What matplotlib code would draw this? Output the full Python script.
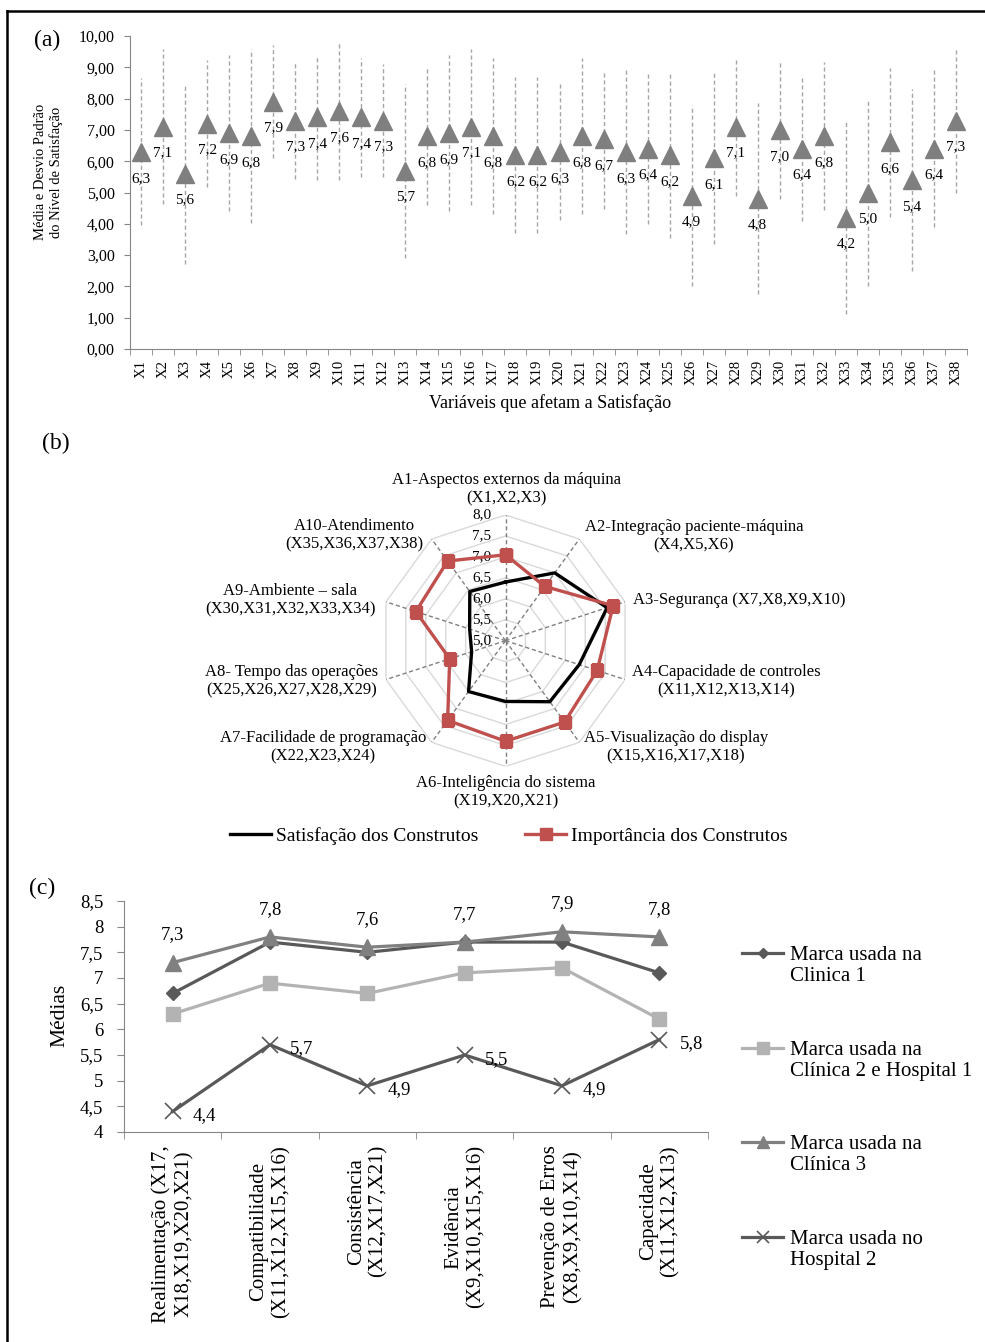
import numpy as np
import matplotlib
matplotlib.use("Agg")
import matplotlib.pyplot as plt
from matplotlib.lines import Line2D
from matplotlib.transforms import ScaledTranslation
from matplotlib.ticker import FuncFormatter

plt.rcParams["font.family"] = ["Liberation Serif", "DejaVu Serif"]

# ---------------- data ----------------
# (a) satisfaction per variable: mean and standard deviation
variables = [f"X{i}" for i in range(1, 39)]
satisf_mean = [6.3, 7.1, 5.6, 7.2, 6.9, 6.8, 7.9, 7.3, 7.4, 7.6,
               7.4, 7.3, 5.7, 6.8, 6.9, 7.1, 6.8, 6.2, 6.2, 6.3,
               6.8, 6.7, 6.3, 6.4, 6.2, 4.9, 6.1, 7.1, 4.8, 7.0,
               6.4, 6.8, 4.2, 5.0, 6.6, 5.4, 6.4, 7.3]
satisf_sd = [2.35, 2.47, 2.87, 2.03, 2.50, 2.78, 1.80, 1.88, 2.00, 2.20,
             1.90, 1.80, 2.78, 2.20, 2.50, 2.50, 2.50, 2.50, 2.50, 2.17,
             2.50, 2.22, 2.64, 2.40, 2.65, 2.90, 2.75, 2.20, 3.05, 2.22,
             2.32, 2.37, 3.08, 3.00, 2.37, 2.90, 2.50, 2.30]

# (b) constructs: satisfaction vs importance
constructs = ["A1-Aspectos externos da máquina\n(X1,X2,X3)",
              "A2-Integração paciente-máquina\n(X4,X5,X6)",
              "A3-Segurança (X7,X8,X9,X10)",
              "A4-Capacidade de controles\n(X11,X12,X13,X14)",
              "A5-Visualização do display\n(X15,X16,X17,X18)",
              "A6-Inteligência do sistema\n(X19,X20,X21)",
              "A7-Facilidade de programação\n(X22,X23,X24)",
              "A8- Tempo das operações\n(X25,X26,X27,X28,X29)",
              "A9-Ambiente – sala\n(X30,X31,X32,X33,X34)",
              "A10-Atendimento\n(X35,X36,X37,X38)"]
satisfacao = [6.4, 7.0, 7.55, 6.85, 6.8, 6.45, 6.5, 5.85, 5.9, 6.45]
importancia = [7.05, 6.6, 7.7, 7.3, 7.4, 7.4, 7.35, 6.4, 7.25, 7.35]
radar_ticks = [5.0, 5.5, 6.0, 6.5, 7.0, 7.5, 8.0]

# (c) ergonomic principles by equipment brand
principles = ["Realimentação (X17,\nX18,X19,X20,X21)",
              "Compatibilidade\n(X11,X12,X15,X16)",
              "Consistência\n(X12,X17,X21)",
              "Evidência\n(X9,X10,X15,X16)",
              "Prevenção de Erros\n(X8,X9,X10,X14)",
              "Capacidade\n(X11,X12,X13)"]
brand_names = ["Marca usada na\nClinica 1",
               "Marca usada na\nClínica 2 e Hospital 1",
               "Marca usada na\nClínica 3",
               "Marca usada no\nHospital 2"]
clinica1 = [6.7, 7.7, 7.5, 7.7, 7.7, 7.1]
clinica2_hosp1 = [6.3, 6.9, 6.7, 7.1, 7.2, 6.2]
clinica3 = [7.3, 7.8, 7.6, 7.7, 7.9, 7.8]
hospital2 = [4.4, 5.7, 4.9, 5.5, 4.9, 5.8]

# ---------------- layout helpers ----------------
W, H, DPI = 985, 1342, 100
fig = plt.figure(figsize=(W / DPI, H / DPI), dpi=DPI)
fig.patch.set_facecolor("white")


def fx(x):
    return x / W


def fy(y):
    return 1 - y / H


def box(left, top, right, bottom):
    return [left / W, 1 - bottom / H, (right - left) / W, (bottom - top) / H]


def br(v, nd=1):
    return f"{v:.{nd}f}".replace(".", ",")


AXIS_GRAY = "#868686"

# outer frame (top and left edges)
fig.add_artist(Line2D([fx(7), fx(985)], [fy(10.5), fy(10.5)],
                      transform=fig.transFigure, color="black", lw=1.8))
fig.add_artist(Line2D([fx(7), fx(7)], [fy(10.5), fy(1342)],
                      transform=fig.transFigure, color="black", lw=1.8))

# ---------------- (a) ----------------
ax = fig.add_axes(box(130, 36, 967, 349))
xa = np.arange(1, len(variables) + 1)
eb = ax.errorbar(xa, satisf_mean, yerr=satisf_sd, fmt="none", ecolor="#a6a6a6",
                 elinewidth=1, capsize=0, zorder=1)
eb[2][0].set_linestyle((0, (3, 2)))
ax.plot(xa, satisf_mean, ls="none", marker="^", ms=13.5, color="#7f7f7f",
        mec="#7f7f7f", zorder=3)
for xi, m in zip(xa, satisf_mean):
    ax.annotate(br(m), (xi, m), xytext=(0, -19), textcoords="offset points",
                ha="center", va="center", fontsize=11, zorder=4)
ax.set_xlim(0.5, len(variables) + 0.5)
ax.set_ylim(0, 10)
ax.set_yticks(np.arange(0, 11))
ax.yaxis.set_major_formatter(FuncFormatter(lambda v, p: br(v, 2)))
ax.set_xticks(xa)
ax.set_xticklabels(variables, rotation=90, fontsize=10.5)
ax.set_xticks(np.arange(0.5, len(variables) + 1), minor=True)
ax.tick_params(axis="x", which="major", length=0, pad=8)
ax.tick_params(axis="x", which="minor", length=4, color=AXIS_GRAY)
ax.tick_params(axis="y", length=4, color=AXIS_GRAY, pad=7, labelsize=11.5)
for s in ("top", "right"):
    ax.spines[s].set_visible(False)
for s in ("left", "bottom"):
    ax.spines[s].set_color(AXIS_GRAY)
fig.text(fx(48.5), fy(172), "Média e Desvio Padrão\ndo Nível de Satisfação",
         rotation=90, ha="center", va="center", multialignment="center",
         fontsize=10.5, linespacing=1.15)
fig.text(fx(550), fy(403), "Variáveis que afetam a Satisfação",
         ha="center", va="center", fontsize=13)
fig.text(fx(47), fy(40), "(a)", ha="center", va="center", fontsize=17)

# ---------------- (b) ----------------
cx, cy, R = 505.5, 640.7, 125.7
axb = fig.add_axes(box(cx - R, cy - R, cx + R, cy + R), projection="polar")
axb.set_theta_zero_location("N")
axb.set_theta_direction(-1)
axb.set_ylim(radar_ticks[0], radar_ticks[-1])
axb.grid(False)
axb.spines["polar"].set_visible(False)
axb.patch.set_alpha(0)
axb.set_xticks([])
axb.set_yticks([])
theta = np.linspace(0, 2 * np.pi, len(constructs), endpoint=False)
theta_c = np.append(theta, theta[0])
for r in radar_ticks[1:]:
    axb.plot(theta_c, [r] * len(theta_c), color="#d9d9d9", lw=1, zorder=1)
for t in theta:
    axb.plot([t, t], [radar_ticks[0], radar_ticks[-1]], color="#808080",
             lw=1, ls=(0, (3, 2)), zorder=1)
off = ScaledTranslation(-14 / DPI, 0, fig.dpi_scale_trans)
for r in radar_ticks:
    axb.text(0, r, br(r), transform=axb.transData + off, ha="right",
             va="center", fontsize=11, zorder=2)
l_sat, = axb.plot(theta_c, satisfacao + satisfacao[:1], color="black", lw=2.4,
                  zorder=3)
l_imp, = axb.plot(theta_c, importancia + importancia[:1], color="#c0504d",
                  lw=2.4, marker="s", ms=8.5, zorder=4)

label_pos = [(506, 489.5), (694, 536), (739, 600), (726, 681.5), (676, 747.5),
             (506, 792), (323, 747.5), (292, 681.5), (290, 600), (354, 535)]
for txt, (lx, ly) in zip(constructs, label_pos):
    fig.text(fx(lx), fy(ly), txt, ha="center", va="center",
             multialignment="center", fontsize=12, linespacing=1.2)
fig.text(fx(56), fy(443), "(b)", ha="center", va="center", fontsize=17)
fig.legend([l_sat, l_imp], ["Satisfação dos Construtos", "Importância dos Construtos"],
           loc="center", bbox_to_anchor=(fx(509), fy(836)), ncol=2,
           frameon=False, fontsize=14, handlelength=2.1, handletextpad=0.25,
           columnspacing=2.4, borderaxespad=0, borderpad=0)

# ---------------- (c) ----------------
axc = fig.add_axes(box(124, 901, 708, 1132))
xc = np.arange(len(principles))
series = [clinica1, clinica2_hosp1, clinica3, hospital2]
styles = [dict(color="#595959", marker="D", ms=7),
          dict(color="#b3b3b3", marker="s", ms=10),
          dict(color="#808080", marker="^", ms=11),
          dict(color="#595959", marker="x", ms=11, mew=1.2)]
for vals, st in zip(series, styles):
    axc.plot(xc, vals, lw=2.3, **st)
for xi, v in zip(xc, clinica3):
    axc.annotate(br(v), (xi, v), xytext=(0, 20), textcoords="offset points",
                 ha="center", va="center", fontsize=13.5)
for xi, v in zip(xc, hospital2):
    axc.annotate(br(v), (xi, v), xytext=(23, -3), textcoords="offset points",
                 ha="center", va="center", fontsize=13.5)
axc.set_xlim(-0.5, len(principles) - 0.5)
axc.set_ylim(4, 8.5)
axc.set_yticks(np.arange(4, 8.51, 0.5))
axc.yaxis.set_major_formatter(
    FuncFormatter(lambda v, p: str(int(v)) if float(v).is_integer() else br(v)))
axc.set_xticks(xc)
axc.set_xticklabels(principles, rotation=90, va="top", ha="center",
                    multialignment="center", fontsize=15, linespacing=1.2)
axc.set_xticks(np.arange(-0.5, len(principles)), minor=True)
axc.tick_params(axis="x", which="major", length=0, pad=9.5)
axc.tick_params(axis="x", which="minor", length=5, color=AXIS_GRAY)
axc.tick_params(axis="y", length=5, color=AXIS_GRAY, pad=10, labelsize=13.5)
for s in ("top", "right"):
    axc.spines[s].set_visible(False)
for s in ("left", "bottom"):
    axc.spines[s].set_color(AXIS_GRAY)
fig.text(fx(60), fy(1015), "Médias", rotation=90, ha="center", va="center",
         fontsize=15.5)
fig.text(fx(42), fy(888), "(c)", ha="center", va="center", fontsize=17)

# legend for (c), handle aligned with the first text line
legend_y = [953, 1048, 1142, 1237]
for name, st, y in zip(brand_names, styles, legend_y):
    fig.add_artist(Line2D([fx(742), fx(783)], [fy(y), fy(y)],
                          transform=fig.transFigure, color=st["color"], lw=2.3))
    mst = dict(st)
    mst["ms"] = st["ms"] * 0.8
    fig.add_artist(Line2D([fx(762.5)], [fy(y)], transform=fig.transFigure,
                          ls="none", **mst))
    fig.text(fx(790), fy(y + 13), name, ha="left", va="center", fontsize=15,
             linespacing=1.2)

fig.savefig("out.png", dpi=DPI)
